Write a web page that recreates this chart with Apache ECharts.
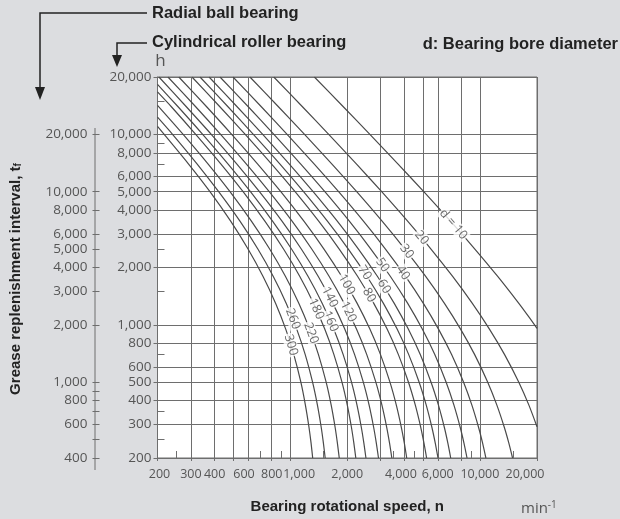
<!DOCTYPE html>
<html><head><meta charset="utf-8">
<script src="https://cdn.jsdelivr.net/npm/echarts@6/dist/echarts.min.js"></script>
<style>html,body{margin:0;padding:0;background:#dcdde0;}#chart{width:620px;height:519px;}</style>
</head><body><div id="chart"></div>
<script>
// ---- data ----
const boreDiameters = [10,20,30,40,50,60,70,80,100,120,140,160,180,220,260,300];
const labelTexts = ['d = 10','20','30','40','50','60','70','80','100','120','140','160','180','220','260','300'];
// [speed n (min^-1), interval (h, cylindrical roller scale)]
const c10 = [[1342,20000],[1901,14000],[2632,10000],[3696,7000],[5061,5000],[7004,3500],[9409,2500],[12386,1800],[16005,1300],[18120,1100],[20000,958]];
const c20 = [[820,20000],[1158,14000],[1597,10000],[2233,7000],[3037,5000],[4161,3500],[5525,2500],[7169,1800],[9107,1300],[11230,950],[13476,700],[16038,500],[18104,380],[20000,292]];
const c30 = [[614,20000],[865,14000],[1191,10000],[1657,7000],[2243,5000],[3053,3500],[4022,2500],[5169,1800],[6493,1300],[7910,950],[9373,700],[10999,500],[12276,380],[13448,290],[14201,240],[14866,200]];
const c40 = [[500,20000],[703,14000],[964,10000],[1337,7000],[1801,5000],[2434,3500],[3180,2500],[4048,1800],[5027,1300],[6053,950],[7086,700],[8206,500],[9066,380],[9839,290],[10329,240],[10756,200]];
const c50 = [[427,20000],[600,14000],[821,10000],[1135,7000],[1524,5000],[2051,3500],[2664,2500],[3371,1800],[4158,1300],[4971,950],[5778,700],[6640,500],[7293,380],[7874,290],[8238,240],[8555,200]];
const c60 = [[374,20000],[524,14000],[717,10000],[988,7000],[1322,5000],[1772,3500],[2291,2500],[2882,1800],[3532,1300],[4195,950],[4845,700],[5530,500],[6043,380],[6495,290],[6776,240],[7020,200]];
const c70 = [[335,20000],[469,14000],[640,10000],[882,7000],[1177,5000],[1572,3500],[2026,2500],[2538,1800],[3097,1300],[3663,950],[4212,700],[4786,500],[5212,380],[5585,290],[5816,240],[6015,200]];
const c80 = [[304,20000],[425,14000],[580,10000],[797,7000],[1062,5000],[1414,3500],[1815,2500],[2266,1800],[2755,1300],[3244,950],[3716,700],[4205,500],[4565,380],[4879,290],[5072,240],[5239,200]];
const c100 = [[259,20000],[362,14000],[492,10000],[673,7000],[893,5000],[1182,3500],[1508,2500],[1868,1800],[2252,1300],[2632,950],[2991,700],[3358,500],[3625,380],[3855,290],[3996,240],[4116,200]];
const c120 = [[227,20000],[317,14000],[430,10000],[587,7000],[776,5000],[1024,3500],[1300,2500],[1604,1800],[1924,1300],[2237,950],[2532,700],[2829,500],[3044,380],[3228,290],[3340,240],[3435,200]];
const c140 = [[203.5,20000],[283,14000],[384,10000],[523,7000],[689,5000],[906,3500],[1145,2500],[1405,1800],[1677,1300],[1940,950],[2185,700],[2430,500],[2606,380],[2755,290],[2845,240],[2922,200]];
const c160 = [[200,18300],[256,14000],[346,10000],[470,7000],[618,5000],[808,3500],[1017,2500],[1242,1800],[1475,1300],[1697,950],[1902,700],[2106,500],[2250,380],[2372,290],[2446,240],[2509,200]];
const c180 = [[200,16700],[236,14000],[318,10000],[431,7000],[565,5000],[736,3500],[923,2500],[1123,1800],[1328,1300],[1522,950],[1700,700],[1876,500],[2000,380],[2104,290],[2166,240],[2219,200]];
const c220 = [[200,14200],[273,10000],[369,7000],[482,5000],[625,3500],[780,2500],[944,1800],[1111,1300],[1267,950],[1409,700],[1548,500],[1645,380],[1726,290],[1774,240],[1815,200]];
const c260 = [[200,12300],[240,10000],[323,7000],[420,5000],[544,3500],[676,2500],[814,1800],[953,1300],[1083,950],[1200,700],[1313,500],[1392,380],[1458,290],[1497,240],[1530,200]];
const c300 = [[200,11000],[291,7000],[378,5000],[486,3500],[600,2500],[719,1800],[838,1300],[948,950],[1045,700],[1139,500],[1203,380],[1257,290],[1289,240],[1315,200]];
const curveData = [c10,c20,c30,c40,c50,c60,c70,c80,c100,c120,c140,c160,c180,c220,c260,c300];
// where each curve label sits, and its tilt
const labelPoints = [[7245,3370],[4934,2865],[4117,2427],[3934,1874],[3069,2060],[3125,1589],[2472,1874],[2608,1431],[1985,1627],[2029,1171],[1616,1398],[1633,1042],[1372,1212],[1290,905],[1033,1075],[1010,784]];
const labelAngles = [-49,-50,-52,-55,-55,-58,-57,-60,-60,-64,-63,-67,-66,-70,-69,-73];
// axes
const speedGrid = [200,300,400,500,600,800,1000,2000,3000,4000,5000,6000,8000,10000,20000];
const speedLabels = [200,300,400,600,800,1000,2000,4000,6000,10000,20000];
const speedMinor = [250,700,900,1500,3500,4500,9000,15000];
const rollerGrid = [200,300,400,500,600,800,1000,2000,3000,4000,5000,6000,8000,10000,20000];
const rollerLabels = [200,300,400,500,600,800,1000,2000,3000,4000,5000,6000,8000,10000,20000];
const rollerMinor = [250,350,700,1500,2500,7000,9000,15000];
const ballTicks = [400,500,600,700,800,900,1000,2000,3000,4000,5000,6000,8000,10000,20000];
const ballLabels = [400,600,800,1000,2000,3000,4000,5000,6000,8000,10000,20000];

const LIGHT = "'Open Sans','Noto Sans',sans-serif";
const BOLD = "'Liberation Sans',Arial,sans-serif";
const fmt = v => Number(v).toLocaleString('en-US');
const gridCol = '#6e6e6e', curveCol = '#4a4a4a', tickTxt = '#555';
const labelShift = {200:'a', 1000:'b', 20000:'c', 600:'d', 4000:'e'};

const chart = echarts.init(document.getElementById('chart'), null, {renderer:'canvas'});
const series = boreDiameters.map((d, i) => ({
  type:'line', name:'d'+d, data: curveData[i], symbol:'none', smooth:0.25,
  lineStyle:{color:curveCol, width:1.2}, silent:true, z:3, clip:true
}));
series.push({
  type:'scatter', silent:true, z:6, symbolSize:1, itemStyle:{color:'rgba(0,0,0,0)'},
  data: labelPoints.map((p,i)=>({value:p, label:{formatter:labelTexts[i], rotate:labelAngles[i]}})),
  label:{show:true, position:'inside', color:'#444', fontFamily:LIGHT, fontSize:12.5,
         backgroundColor:'#fff', padding:[0,1]}
});

chart.setOption({
  animation:false,
  backgroundColor:'#dcdde0',
  grid:{left:153, top:77, width:384, height:391, show:true, backgroundColor:'#fff', borderColor:gridCol, borderWidth:1},
  xAxis:[{
    type:'log', logBase:10, min:200, max:20000, position:'bottom',
    name:'Bearing rotational speed, n', nameLocation:'middle', nameGap:41,
    nameTextStyle:{fontFamily:BOLD, fontWeight:'bold', fontSize:15, color:'#222'},
    axisLine:{show:true, lineStyle:{color:gridCol, width:1}},
    axisTick:{show:true, customValues:speedGrid, length:3, lineStyle:{color:gridCol}},
    splitLine:{show:true, lineStyle:{color:gridCol, width:1}},
    minorTick:{show:false}, minorSplitLine:{show:false},
    axisLabel:{customValues:speedLabels, margin:10, color:tickTxt, fontFamily:LIGHT, fontSize:12.5, hideOverlap:false,
      formatter:v=>{const s=fmt(v); const k=labelShift[v]; return k ? '{'+k+'|'+s+'}' : s;},
      rich:{a:{padding:[0,0,0,4]}, b:{padding:[0,0,0,18]}, c:{padding:[0,24,0,0]}, d:{padding:[0,8,0,0]}, e:{padding:[0,7,0,0]}}}
  },{
    type:'log', logBase:10, min:200, max:20000, position:'bottom',
    axisLine:{show:false}, axisLabel:{show:false}, splitLine:{show:false},
    axisTick:{show:true, inside:true, customValues:speedMinor, length:7, lineStyle:{color:gridCol}}
  }],
  yAxis:[{
    type:'log', logBase:10, min:200, max:20000, position:'left',
    name:'h', nameLocation:'end', nameGap:5,
    nameTextStyle:{fontFamily:LIGHT, fontSize:17, color:tickTxt, align:'center', padding:[0,0,0,6]},
    axisLine:{show:true, lineStyle:{color:gridCol, width:1}},
    axisTick:{show:true, customValues:rollerGrid, length:4, lineStyle:{color:gridCol}},
    splitLine:{show:true, lineStyle:{color:gridCol, width:1}},
    axisLabel:{customValues:rollerLabels, margin:6, color:tickTxt, fontFamily:LIGHT, fontSize:13.5, formatter:fmt, hideOverlap:false}
  },{
    type:'log', logBase:10, min:200, max:20000, position:'left',
    axisLine:{show:false}, axisLabel:{show:false}, splitLine:{show:false},
    axisTick:{show:true, inside:true, customValues:rollerMinor, length:7, lineStyle:{color:gridCol}}
  },{
    type:'log', logBase:10, min:400, max:40000, position:'left', offset:58,
    name:'Grease replenishment interval, t{s|f}', nameLocation:'middle', nameGap:76, nameRotate:90,
    nameTextStyle:{fontFamily:BOLD, fontWeight:'bold', fontSize:15, color:'#222', padding:[0,23,0,0],
      rich:{s:{fontFamily:BOLD, fontWeight:'bold', fontSize:10, color:'#222', verticalAlign:'bottom', padding:[6,0,0,0]}}},
    axisLine:{show:false}, splitLine:{show:false},
    axisTick:{show:true, customValues:ballTicks, length:7, lineStyle:{color:gridCol}},
    axisLabel:{customValues:ballLabels, margin:12, color:tickTxt, fontFamily:LIGHT, fontSize:13.5, formatter:fmt, hideOverlap:false}
  }],
  graphic:[
    {type:'line', shape:{x1:95, y1:128, x2:95, y2:470}, style:{stroke:gridCol, lineWidth:1}, silent:true},
    {type:'polyline', shape:{points:[[147,13],[40,13],[40,90]]}, style:{stroke:'#222', lineWidth:1.5, fill:null}, silent:true},
    {type:'polygon', shape:{points:[[35,87],[45,87],[40,100]]}, style:{fill:'#222'}, silent:true},
    {type:'polyline', shape:{points:[[147,43],[117,43],[117,57]]}, style:{stroke:'#222', lineWidth:1.5, fill:null}, silent:true},
    {type:'polygon', shape:{points:[[112,55],[122,55],[117,67]]}, style:{fill:'#222'}, silent:true},
    {type:'text', left:152, top:5, style:{text:'Radial ball bearing', font:"bold 16.5px 'Liberation Sans',Arial,sans-serif", fill:'#222'}, silent:true},
    {type:'text', left:152, top:34, style:{text:'Cylindrical roller bearing', font:"bold 16.5px 'Liberation Sans',Arial,sans-serif", fill:'#222'}, silent:true},
    {type:'text', right:2, top:36, style:{text:'d: Bearing bore diameter', font:"bold 16.5px 'Liberation Sans',Arial,sans-serif", fill:'#222'}, silent:true},
    {type:'text', left:521, top:500, style:{text:'min{s|-1}', font:"15px 'Open Sans',sans-serif", fill:tickTxt,
      rich:{s:{font:"10px 'Open Sans',sans-serif", fill:tickTxt, verticalAlign:'top', padding:[0,0,8,0]}}}, silent:true}
  ],
  series: series
});
</script></body></html>
